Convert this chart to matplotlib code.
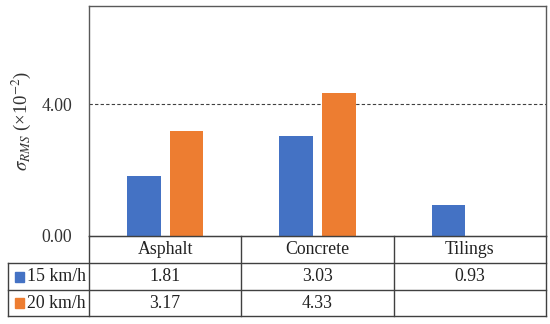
import matplotlib.pyplot as plt
import numpy as np

# 数据
surfaces = ['Asphalt', 'Concrete', 'Tilings']
series_names = ['15 km/h', '20 km/h']
v15 = [1.81, 3.03, 0.93]
v20 = [3.17, 4.33, None]
colors = ['#4472C4', '#ED7D31']
ytick_vals = [0.0, 4.0]

plt.rcParams['font.family'] = ['Liberation Serif', 'DejaVu Serif']
plt.rcParams['mathtext.fontset'] = 'stix'
fs = 12.8

W, H = 550, 324
fig = plt.figure(figsize=(5.5, 3.24), dpi=100)

# 主图区域（像素坐标）
x0, x1 = 89, 546
ytop, ybot = 6, 236
ax = fig.add_axes([x0 / W, (H - ybot) / H, (x1 - x0) / W, (ybot - ytop) / H])

x = np.arange(len(surfaces))
bw = 0.22
off = 0.14
for i, vals in enumerate([v15, v20]):
    xs = [xi + (-off if i == 0 else off) for xi, v in zip(x, vals) if v is not None]
    hs = [v for v in vals if v is not None]
    ax.bar(xs, hs, width=bw, color=colors[i], zorder=3)

ax.set_xlim(-0.5, len(surfaces) - 0.5)
ax.set_ylim(0, 6.97)
ax.set_yticks(ytick_vals)
ax.set_yticklabels(['%.2f' % v for v in ytick_vals], fontsize=fs, color='#333333')
ax.tick_params(axis='y', length=0, pad=12)
ax.set_xticks([])
ax.axhline(4.0, color='#404040', linestyle=(0, (3, 2)), linewidth=0.8, zorder=2)
for s in ['left', 'top', 'right']:
    ax.spines[s].set_color('#595959')
    ax.spines[s].set_linewidth(1.0)
ax.spines['bottom'].set_color('#404040')
ax.set_ylabel(r'$\sigma_{RMS}$ (×10$^{-2}$)', fontsize=13.5, labelpad=6, color='#333333')

# 表格部分（像素坐标）
tx0 = 8
rows_y = [236, 263, 290, 316]
tab = fig.add_axes([0, 0, 1, 1], facecolor='none')
tab.set_xlim(0, W)
tab.set_ylim(H, 0)
tab.axis('off')
lc = '#404040'
colw = (x1 - x0) / len(surfaces)
col_edges = [x0 + k * colw for k in range(len(surfaces) + 1)]
tab.plot([x0, x1], [rows_y[0]] * 2, color=lc, lw=1.0)
for yy in rows_y[1:]:
    tab.plot([tx0, x1], [yy, yy], color=lc, lw=1.0)
tab.plot([tx0, tx0], [rows_y[1], rows_y[3]], color=lc, lw=1.0)
for cx in col_edges:
    tab.plot([cx, cx], [rows_y[0], rows_y[3]], color=lc, lw=1.0)

for k, name in enumerate(surfaces):
    cx = (col_edges[k] + col_edges[k + 1]) / 2
    tab.text(cx, (rows_y[0] + rows_y[1]) / 2, name, ha='center', va='center', fontsize=fs, color='#222222')

for r, (name, vals) in enumerate(zip(series_names, [v15, v20])):
    cy = (rows_y[r + 1] + rows_y[r + 2]) / 2
    tab.add_patch(plt.Rectangle((15, cy - 5), 9, 10, color=colors[r]))
    tab.text(27, cy, name, ha='left', va='center', fontsize=fs, color='#222222')
    for k, v in enumerate(vals):
        if v is None:
            continue
        cx = (col_edges[k] + col_edges[k + 1]) / 2
        tab.text(cx, cy, '%.2f' % v, ha='center', va='center', fontsize=fs, color='#222222')

fig.savefig('out.png', dpi=100)
